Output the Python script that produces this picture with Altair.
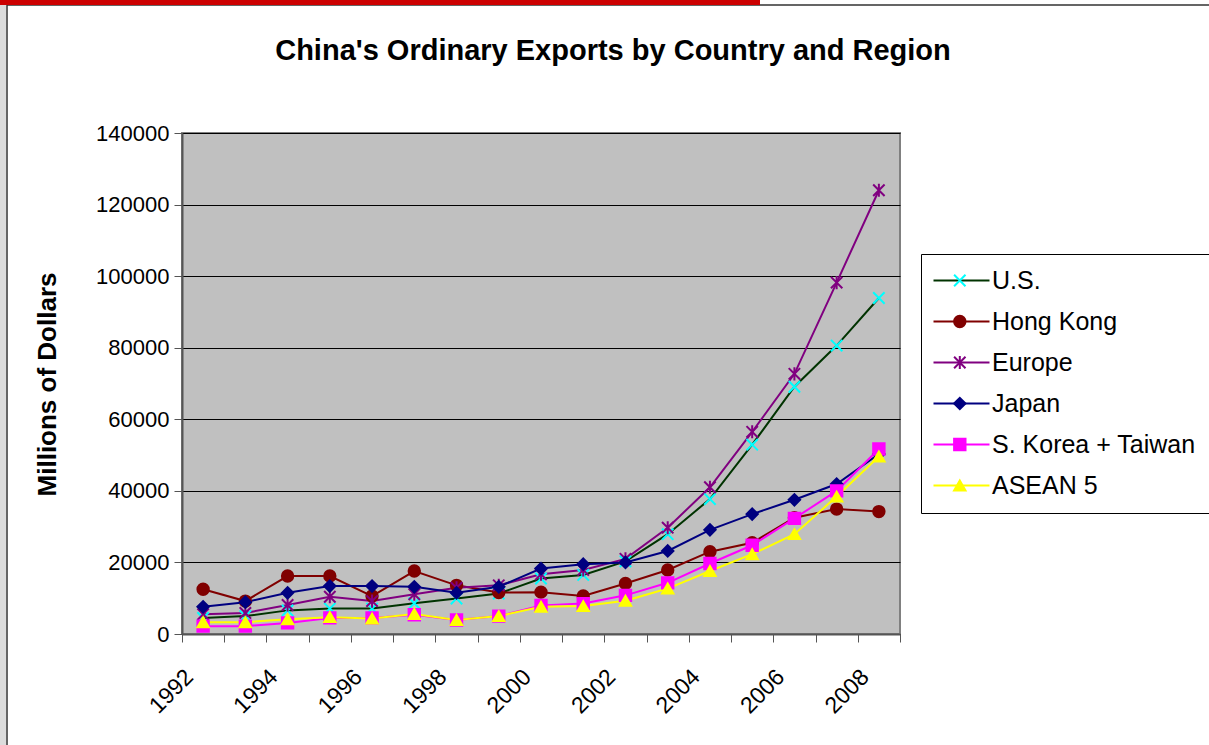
import altair as alt
import pandas as pd

# ---------------- data ----------------
years = list(range(1992, 2009))
series_names = ["U.S.", "Hong Kong", "Europe", "Japan", "S. Korea + Taiwan", "ASEAN 5"]

us = [4500, 5000, 6600, 7100, 7100, 8600, 9900, 11300, 15500, 16500, 20300, 27900, 37700, 52900, 69100, 80600, 93900]
hong_kong = [12500, 9200, 16200, 16200, 10600, 17600, 13600, 11600, 11700, 10600, 14100, 17900, 23000, 25500, 32500, 34900, 34200]
europe = [5500, 5900, 8100, 10400, 9200, 11100, 12900, 13600, 16700, 17900, 21000, 29700, 41000, 56500, 72700, 98200, 124000]
japan = [7600, 8900, 11500, 13400, 13400, 13200, 11500, 13200, 18300, 19500, 20000, 23200, 29100, 33500, 37500, 41900, 50300]
korea_taiwan = [2200, 2200, 3100, 4500, 4500, 5400, 3900, 5000, 8000, 8500, 10800, 14300, 19700, 24800, 32300, 40000, 51700]
asean5 = [3300, 3300, 4100, 4700, 4300, 5600, 3900, 5000, 7600, 7800, 9300, 12700, 17600, 22300, 27900, 38400, 49600]

y_ticks = [0, 20000, 40000, 60000, 80000, 100000, 120000, 140000]
x_label_years = years[::2]

line_colors = ["#003300", "#800000", "#800080", "#000080", "#FF00FF", "#FFFF00"]
marker_colors = ["#00FFFF", "#800000", "#800080", "#000080", "#FF00FF", "#FFFF00"]
X_PATH = "M-1,-1L1,1M-1,1L1,-1"
STAR_PATH = "M-1,-1L1,1M-1,1L1,-1M0,-1.15L0,1.15"
marker_shapes = [X_PATH, "circle", STAR_PATH, "diamond", "square", "triangle-up"]

all_values = [us, hong_kong, europe, japan, korea_taiwan, asean5]
rows = []
for name, vals in zip(series_names, all_values):
    for yr, v in zip(years, vals):
        rows.append({"year": yr, "value": v, "series": name, "marker": name})
df = pd.DataFrame(rows)

FONT = "Liberation Sans"

# ---------------- encodings ----------------
x_bounds = [yr - 0.5 for yr in years] + [years[-1] + 0.5]
x_enc = alt.X(
    "year:Q",
    title=None,
    scale=alt.Scale(domain=[years[0] - 0.5, years[-1] + 0.5], nice=False, zero=False),
    axis=alt.Axis(
        values=x_bounds + x_label_years,
        labelExpr="datum.value % 2 == 0 ? format(datum.value, 'd') : ''",
        tickOpacity={"condition": {"test": "datum.value % 1 == 0", "value": 0}, "value": 1},
        labelAngle=-45,
        labelAlign="right",
        labelBaseline="middle",
        labelFontSize=23,
        labelFont=FONT,
        labelColor="black",
        labelPadding=31,
        labelOffset=-14,
        labelOverlap=False,
        labelFlush=False,
        tickSize=8,
        tickColor="#555555",
        domainColor="#555555",
        domainWidth=2,
        grid=False,
    ),
)

y_enc = alt.Y(
    "value:Q",
    scale=alt.Scale(domain=[0, 140000], nice=False),
    axis=alt.Axis(
        values=y_ticks,
        format="d",
        title="Millions of Dollars",
        titleFont=FONT,
        titleFontSize=26,
        titleFontWeight="bold",
        titleColor="black",
        titleX=-135,
        titleY=251,
        titleAngle=-90,
        titleAlign="center",
        titleBaseline="middle",
        labelFontSize=22,
        labelFont=FONT,
        labelColor="black",
        labelPadding=5,
        tickSize=8,
        tickColor="#555555",
        domainColor="#555555",
        domainWidth=2,
        grid=True,
        gridColor="black",
        gridWidth=1,
        gridOpacity=1,
    ),
)

LEG_X = 739
LEG_Y = 121
LEG_PAD = 14
ROW_PAD = 15

# legend showing the line strokes with the labels
leg_lines = alt.Legend(
    orient="none", legendX=LEG_X, legendY=LEG_Y, title=None,
    symbolType="M-2.8,0L2.8,0", symbolSize=400, symbolStrokeWidth=2,
    labelFontSize=25, labelFont=FONT, labelColor="black", labelLimit=400,
    padding=LEG_PAD, rowPadding=ROW_PAD, symbolOffset=14, labelOffset=18,
    strokeColor="black", fillColor="white", cornerRadius=0,
)

# legend showing only the markers, laid exactly over the line legend
leg_marks_kw = dict(
    orient="none", legendX=LEG_X, legendY=LEG_Y, title=None,
    symbolSize=130, symbolStrokeWidth=2,
    labelFontSize=25, labelFont=FONT, labelOpacity=0, labelLimit=400,
    labelExpr="''",
    padding=LEG_PAD, rowPadding=ROW_PAD, symbolOffset=12.3, labelOffset=18,
)

lines = alt.Chart(df).mark_line(strokeWidth=2).encode(
    x=x_enc,
    y=y_enc,
    stroke=alt.Stroke("series:N", sort=series_names, scale=alt.Scale(range=line_colors), legend=leg_lines),
)

points = alt.Chart(df).mark_point(size=130, strokeWidth=2, opacity=1, filled=False).encode(
    x=x_enc,
    y=y_enc,
    color=alt.Color("marker:N", scale=alt.Scale(domain=series_names, range=marker_colors), legend=alt.Legend(**leg_marks_kw)),
    fill=alt.Fill("marker:N", scale=alt.Scale(domain=series_names, range=marker_colors), legend=alt.Legend(**leg_marks_kw)),
    shape=alt.Shape("marker:N", scale=alt.Scale(domain=series_names, range=marker_shapes), legend=alt.Legend(**leg_marks_kw)),
)

# decorative page frame (slide border and red bar)
decor = pd.DataFrame({"k": [0]})
strip = alt.Chart(decor).mark_rect(color="#dcdcdc").encode(
    x=alt.value(-182), x2=alt.value(-176), y=alt.value(-133), y2=alt.value(612)
)
frame = alt.Chart(decor).mark_rect(fillOpacity=0, stroke="#333333", strokeWidth=1.5).encode(
    x=alt.value(-175), x2=alt.value(1060), y=alt.value(-128), y2=alt.value(640)
)
redbar = alt.Chart(decor).mark_rect(color="#CC0000").encode(
    x=alt.value(-182), x2=alt.value(578), y=alt.value(-133), y2=alt.value(-128)
)

chart = (
    alt.layer(strip, frame, redbar, lines, points)
    .properties(
        width=718,
        height=501,
        autosize=alt.AutoSizeParams(type="none"),
        padding={"left": 182, "top": 133, "right": 309, "bottom": 111},
        background="white",
        title=alt.Title(
            "China's Ordinary Exports by Country and Region",
            font=FONT,
            fontSize=29,
            fontWeight="bold",
            color="black",
            anchor="middle",
            frame="group",
            baseline="alphabetic",
            dx=72,
            dy=89,
            offset=0,
        ),
    )
    .configure_view(fill="#C0C0C0", stroke="#808080", strokeWidth=2)
)

chart.save("out.html", embed_options={"renderer": "svg", "actions": False})
